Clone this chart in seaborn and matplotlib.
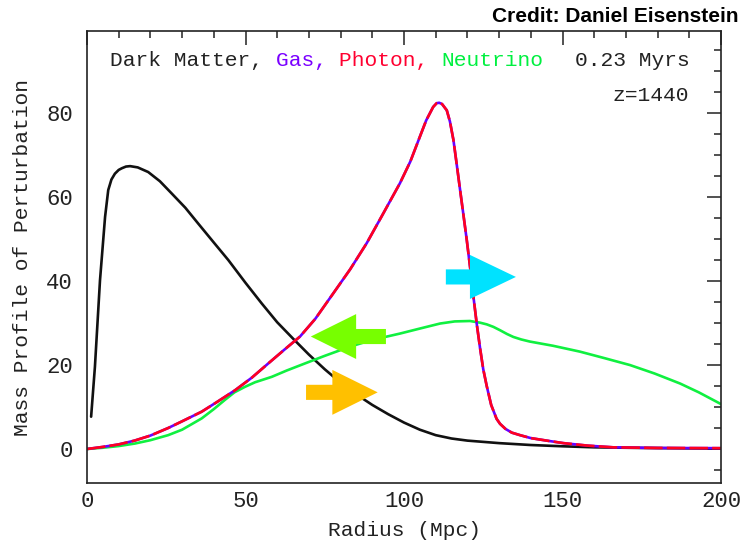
import matplotlib
matplotlib.use("Agg")
import matplotlib.pyplot as plt
import seaborn as sns
import numpy as np
import pandas as pd

# ---- data ----
dm_r = [1.3, 2.5, 4.1, 5.7, 6.7, 7.7, 8.8, 10, 11, 12.3, 13.6, 16, 19.3, 23, 26.7, 31, 35.1, 40, 44.6, 50, 55.1,
        60, 65, 70, 75, 80, 85, 90, 95, 100, 105, 110, 115, 120, 125, 130, 140, 150, 160, 175, 190, 200]
dm_v = [7.7, 19.6, 40.2, 55.3, 61.7, 64.2, 65.6, 66.5, 66.9, 67.3, 67.4, 67.1, 66.0, 63.8, 60.9, 57.5, 53.7, 49.2, 45.0, 39.6, 34.7,
        30.2, 26.3, 22.5, 19.0, 15.8, 13.0, 10.5, 8.3, 6.3, 4.6, 3.3, 2.5, 2.0, 1.7, 1.4, 0.95, 0.65, 0.4, 0.25, 0.15, 0.1]

gas_r = [0, 5, 10, 15, 20, 25.6, 30, 36.2, 41, 46.7, 52, 57.2, 62, 67.2, 72, 77.7, 83, 88.2, 93, 98.7,
         102, 105, 107, 109.2, 110.3, 111.1, 112, 113.5, 114.5, 115.6, 116.6, 117.7, 118.8, 119.8, 120.9,
         121.9, 123, 124, 125, 126.1, 127.5, 129.2, 130.3, 132, 134, 136.6, 140, 145, 150.3, 158, 166, 180, 200]
gas_v = [0, 0.5, 1.1, 2.0, 3.2, 5.0, 6.6, 8.9, 11.2, 14.0, 17.0, 20.4, 23.5, 26.8, 31.0, 37.1, 42.8, 49.0, 55.5, 63.3,
         68.5, 74.4, 78.3, 81.5, 82.4, 82.5, 82.2, 80.7, 78.0, 73.6, 68.0, 61.7, 55.5, 49.8, 43.0,
         36.3, 29.5, 24.0, 19.0, 15.0, 10.5, 7.2, 6.0, 4.8, 3.9, 3.3, 2.6, 2.0, 1.4, 0.8, 0.4, 0.25, 0.2]

nu_r = [0, 5, 10, 15.1, 20, 25.6, 30, 36.2, 40, 43.5, 46.5, 49.8, 53, 58.3, 63, 68.8, 75, 83, 90, 98.7,
        105, 111.4, 116, 120.8, 124, 126.1, 128.2, 130.3, 132.5, 134.5, 137, 139.7, 147, 155.5, 163,
        171.3, 179, 187.1, 193, 200]
nu_v = [0, 0.3, 0.7, 1.3, 2.1, 3.3, 4.6, 7.3, 9.5, 11.7, 13.5, 14.8, 15.9, 17.2, 18.7, 20.4, 22.2, 24.4, 26.0, 27.5,
        28.7, 29.9, 30.4, 30.5, 30.1, 29.7, 29.1, 28.3, 27.4, 26.7, 26.1, 25.6, 24.6, 23.2, 21.7,
        20.0, 18.0, 15.6, 13.5, 10.7]

x_ticks = [0, 50, 100, 150, 200]
y_ticks = [0, 20, 40, 60, 80]

legend_words = ["Dark Matter, ", "Gas, ", "Photon, ", "Neutrino"]
legend_colors = ["#222222", "#7A00FF", "#FF0030", "#00F040"]

# ---- styling ----
sns.set_style("white")
plt.rcParams['font.family'] = ['Liberation Mono', 'DejaVu Sans Mono']

DM_C = "#111111"
GAS_C = "#6A00FF"
PH_C = "#FF0020"
NU_C = "#10F040"
FS = 15.3
TFS = 16

fig = plt.figure(figsize=(7.45, 5.51), dpi=100)
ax = fig.add_axes([87/745, 1-483/551, (721-87)/745, (483-31)/551])

df_dm = pd.DataFrame({"r": dm_r, "v": dm_v})
df_gas = pd.DataFrame({"r": gas_r, "v": gas_v})
df_nu = pd.DataFrame({"r": nu_r, "v": nu_v})

lw = 1.9
sns.lineplot(data=df_dm, x="r", y="v", ax=ax, color=DM_C, lw=lw, estimator=None, sort=False)
sns.lineplot(data=df_nu, x="r", y="v", ax=ax, color=NU_C, lw=lw, estimator=None, sort=False)
sns.lineplot(data=df_gas, x="r", y="v", ax=ax, color=GAS_C, lw=lw, estimator=None, sort=False)
sns.lineplot(data=df_gas, x="r", y="v", ax=ax, color=PH_C, lw=lw, estimator=None, sort=False,
             linestyle=(0, (7, 1.6)))

ax.set_xlim(0, 200)
ax.set_ylim(-8.1, 99.6)
ax.set_xticks(x_ticks)
ax.set_yticks(y_ticks)
ax.set_xticks(np.arange(0, 201, 10), minor=True)
ax.set_yticks(np.arange(-5, 100, 5), minor=True)
ax.tick_params(which="both", direction="in", top=True, right=True, color="#222222")
ax.tick_params(which="major", length=10, width=1.1, labelsize=TFS, labelcolor="#222222")
ax.tick_params(axis="x", which="major", pad=6)
ax.tick_params(axis="y", which="major", pad=10)
ax.tick_params(which="minor", length=5, width=1.1)
for s in ax.spines.values():
    s.set_linewidth(1.2)
    s.set_color("#222222")

ax.set_xlabel("Radius (Mpc)", fontsize=FS, color="#222222", labelpad=6)
ax.set_ylabel("Mass Profile of Perturbation", fontsize=FS, color="#222222", labelpad=10)

# arrows (horizontal block arrows)
ax.arrow(113.2, 41.0, 22.1, 0, width=3.6, head_width=10.5, head_length=14.5,
         length_includes_head=True, color="#00E2FF", lw=0, zorder=5)
ax.arrow(94.3, 26.8, -23.7, 0, width=3.6, head_width=10.7, head_length=14.3,
         length_includes_head=True, color="#77FF00", lw=0, zorder=5)
ax.arrow(69.1, 13.5, 22.6, 0, width=3.6, head_width=10.7, head_length=14.3,
         length_includes_head=True, color="#FFC000", lw=0, zorder=5)

# colored legend line
t = ax.text(7.2, 92.5, legend_words[0], fontsize=FS, color=legend_colors[0], va="center", ha="left")
prev = t
for w, c in zip(legend_words[1:], legend_colors[1:]):
    prev = ax.annotate(w, xy=(1, 0), xycoords=prev, va="bottom", ha="left", fontsize=FS, color=c)

ax.text(190, 92.5, "0.23 Myrs", fontsize=FS, color="#222222", va="center", ha="right")
ax.text(190, 84.3, "z=1440", fontsize=FS, color="#222222", va="center", ha="right")

fig.text(738/745, 1-17/551, "Credit: Daniel Eisenstein", fontsize=15, fontweight="bold",
         family="Liberation Sans", ha="right", va="center", color="black")

fig.savefig("out.png", dpi=100)
